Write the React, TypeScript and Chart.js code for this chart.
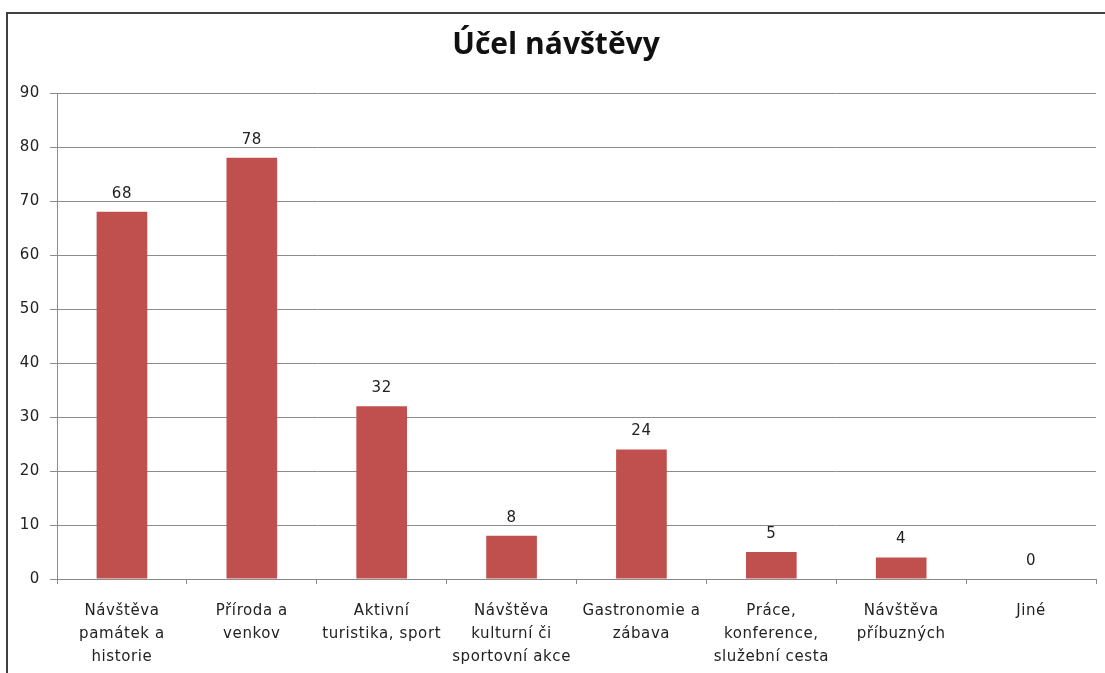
import React, { useEffect, useRef } from "react";
import { Chart, registerables } from "chart.js";

Chart.register(...registerables);

const titleText = "Účel návštěvy";
const categories: string[][] = [
  ["Návštěva", "památek a", "historie"],
  ["Příroda a", "venkov"],
  ["Aktivní", "turistika, sport"],
  ["Návštěva", "kulturní či", "sportovní akce"],
  ["Gastronomie a", "zábava"],
  ["Práce,", "konference,", "služební cesta"],
  ["Návštěva", "příbuzných"],
  ["Jiné"],
];
const values: number[] = [68, 78, 32, 8, 24, 5, 4, 0];
const yMin = 0;
const yMax = 90;
const yStep = 10;

const FONT = "'DejaVu Sans', Verdana, sans-serif";
const SPACING = "0.6px";

const spacingPlugin = {
  id: "letterSpacing",
  beforeLayout(chart: any) {
    chart.ctx.letterSpacing = SPACING;
  },
  beforeDraw(chart: any) {
    chart.ctx.letterSpacing = SPACING;
  },
};

const borderPlugin = {
  id: "frameBorder",
  beforeDraw(chart: any) {
    const ctx = chart.ctx;
    ctx.save();
    ctx.fillStyle = "#ffffff";
    ctx.fillRect(0, 0, chart.width, chart.height);
    ctx.strokeStyle = "#404040";
    ctx.lineWidth = 2;
    ctx.beginPath();
    ctx.moveTo(7, chart.height);
    ctx.lineTo(7, 13);
    ctx.lineTo(chart.width, 13);
    ctx.stroke();
    ctx.letterSpacing = "0px";
    ctx.font = `bold 30px 'Open Sans', sans-serif`;
    ctx.fillStyle = "#111111";
    ctx.textAlign = "center";
    ctx.textBaseline = "alphabetic";
    ctx.fillText(titleText, 556, 54);
    ctx.restore();
  },
};

const valueLabelPlugin = {
  id: "valueLabels",
  afterDatasetsDraw(chart: any) {
    const ctx = chart.ctx;
    const meta = chart.getDatasetMeta(0);
    const data = chart.data.datasets[0].data;
    ctx.save();
    ctx.font = `15px ${FONT}`;
    ctx.fillStyle = "#222222";
    ctx.textAlign = "center";
    ctx.textBaseline = "middle";
    meta.data.forEach((bar: any, i: number) => {
      ctx.fillText(String(data[i]), bar.x, bar.y - 18);
    });
    ctx.restore();
  },
};

export default function App() {
  const canvasRef = useRef<HTMLCanvasElement | null>(null);

  useEffect(() => {
    if (!canvasRef.current) return;
    const chart = new Chart(canvasRef.current, {
      type: "bar",
      data: {
        labels: categories,
        datasets: [
          {
            data: values,
            backgroundColor: "#C0504D",
            borderWidth: 0,
            categoryPercentage: 1,
            barPercentage: 0.39,
          },
        ],
      },
      options: {
        animation: false,
        responsive: false,
        maintainAspectRatio: false,
        layout: { padding: { left: 0, right: 9, top: 93, bottom: 0 } },
        plugins: {
          legend: { display: false },
          tooltip: { enabled: false },
          title: { display: false },
        },
        scales: {
          x: {
            offset: true,
            grid: {
              display: true,
              drawOnChartArea: false,
              drawTicks: true,
              tickLength: 5,
              color: "#888888",
              tickColor: "#888888",
            },
            border: { display: true, color: "#888888", width: 1 },
            ticks: {
              autoSkip: false,
              maxRotation: 0,
              minRotation: 0,
              color: "#222222",
              padding: 16,
              font: { family: FONT, size: 15, lineHeight: 1.53 },
            },
            afterFit(scale: any) {
              scale.height = 94;
            },
          },
          y: {
            min: yMin,
            max: yMax,
            ticks: {
              stepSize: yStep,
              color: "#222222",
              padding: 10,
              font: { family: FONT, size: 15 },
            },
            grid: {
              color: "#8c8c8c",
              tickColor: "#8c8c8c",
              tickLength: 7,
              lineWidth: 1,
            },
            border: { display: true, color: "#8c8c8c", width: 1 },
            afterFit(scale: any) {
              scale.width = 57;
            },
          },
        },
      },
      plugins: [spacingPlugin, borderPlugin, valueLabelPlugin],
    });
    return () => chart.destroy();
  }, []);

  return (
    <div style={{ position: "fixed", left: 0, top: 0, width: 1105, height: 673, background: "#fff" }}>
      <canvas ref={canvasRef} width={1105} height={673} style={{ display: "block" }} />
    </div>
  );
}
